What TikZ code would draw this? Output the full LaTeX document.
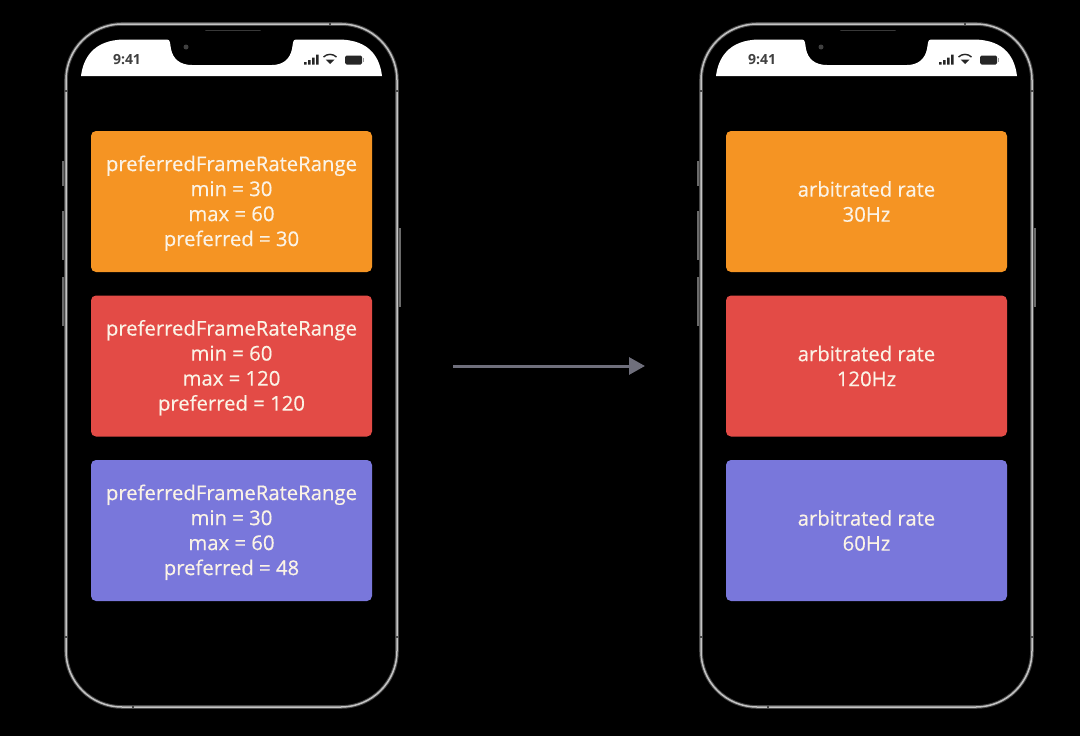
\documentclass[tikz,border=0pt]{standalone}
\usepackage{fontspec}
\setmainfont{Open Sans}
\newfontfamily\paneltext[FakeBold=0.5]{Open Sans}
\usetikzlibrary{arrows.meta}
\definecolor{orangebox}{HTML}{F59423}
\definecolor{redbox}{HTML}{E34B46}
\definecolor{bluebox}{HTML}{7977DB}
\definecolor{txt}{HTML}{FBF3E6}
\definecolor{arrowc}{HTML}{6F6F7C}
\definecolor{frame}{HTML}{C4C4C4}
\definecolor{frameglow}{HTML}{484848}
\definecolor{btn}{HTML}{6A6A6A}
\tikzset{
  panel/.style={rounded corners=5pt,minimum width=281pt,minimum height=141pt,inner sep=0pt,
    align=center,text=txt,font=\paneltext\fontsize{20.3}{25}\selectfont},
  bodyglow/.style={draw=frameglow,line width=3.6pt},
  body/.style={draw=frame,line width=1.5pt},
  band/.style={draw=frameglow,line width=2pt},
  sidebtn/.style={draw=btn,line width=2.4pt},
  flow/.style={draw=arrowc,line width=3pt,-{Triangle[length=16pt,width=17pt]}},
  clock/.style={font=\fontsize{14}{16}\selectfont\bfseries,text=black!75,inner sep=0pt}
}
\newcommand{\firstline}{\rule{0pt}{19pt}}
\newcommand{\phonebody}{%
  \draw[sidebtn] (63.5,161) -- (63.5,186) (63.5,211) -- (63.5,260) (63.5,277) -- (63.5,326) (399.5,228) -- (399.5,307);
  \draw[bodyglow,rounded corners=56pt] (66,24) rectangle (397,707);
  \draw[body,rounded corners=56pt] (66,24) rectangle (397,707);
  \draw[band] (64,91) -- (68,91) (395,91) -- (399,91) (64,637) -- (68,637) (395,637) -- (399,637)
    (330,22.5) -- (330,26) (133,705) -- (133,708.5);
  \fill[white] (81,76) -- (382,76)
    .. controls (380,60) and (372,39.5) .. (338,39.5)
    -- (296,39.5) .. controls (292.5,39.5) and (293,44) .. (292,49)
    .. controls (290,59) and (283,65) .. (272,65)
    -- (192,65) .. controls (180,65) and (173,59) .. (171,49)
    .. controls (170,44) and (170.5,39.5) .. (167,39.5)
    -- (125,39.5) .. controls (92,39.5) and (83,60) .. (81,76) -- cycle;
  % earpiece and camera in the notch
  \draw[black!78,line width=1.6pt,line cap=round] (206,30.5) -- (260,30.5);
  \fill[black!75] (186,47) circle (2.5pt);
  % status icons
  \fill[black!85] (304,62) rectangle (306.5,64.5) (308,60) rectangle (310.5,64.5)
    (312,57.5) rectangle (314.5,64.5) (316,54.5) rectangle (318.5,64.5);
  \fill[black!85] (330,64) -- (325.5,59.5) -- (334.5,59.5) -- cycle;
  \draw[black!85,line width=1.4pt] (323.5,57) .. controls (327,53.5) and (333,53.5) .. (336.5,57);
  \fill[black!85,rounded corners=1.5pt] (345,55.5) rectangle (362,64.5);
  \fill[black!40] (363,58) rectangle (364,62);
}
\begin{document}
\begin{tikzpicture}[x=1pt,y=-1pt]
\useasboundingbox (0,0) rectangle (1080,736);
\fill[black] (0,0) rectangle (1080,736);
\phonebody
\node[clock] (tl) at (127,59.5) {9:41};
\node[panel,fill=orangebox] (a1) at (231.5,201.5) {\firstline preferredFrameRateRange\\min = 30\\max = 60\\preferred = 30};
\node[panel,fill=redbox] (a2) at (231.5,366) {\firstline preferredFrameRateRange\\min = 60\\max = 120\\preferred = 120};
\node[panel,fill=bluebox] (a3) at (231.5,530.5) {\firstline preferredFrameRateRange\\min = 30\\max = 60\\preferred = 48};
\begin{scope}[xshift=635pt]
\phonebody
\node[clock] (tr) at (127,59.5) {9:41};
\node[panel,fill=orangebox] (b1) at (231.5,201.5) {arbitrated rate\\30Hz};
\node[panel,fill=redbox] (b2) at (231.5,366) {arbitrated rate\\120Hz};
\node[panel,fill=bluebox] (b3) at (231.5,530.5) {arbitrated rate\\60Hz};
\end{scope}
\coordinate (s) at (453,366);
\coordinate (e) at (645,366);
\draw[flow] (s) -- (e);
\end{tikzpicture}
\end{document}
